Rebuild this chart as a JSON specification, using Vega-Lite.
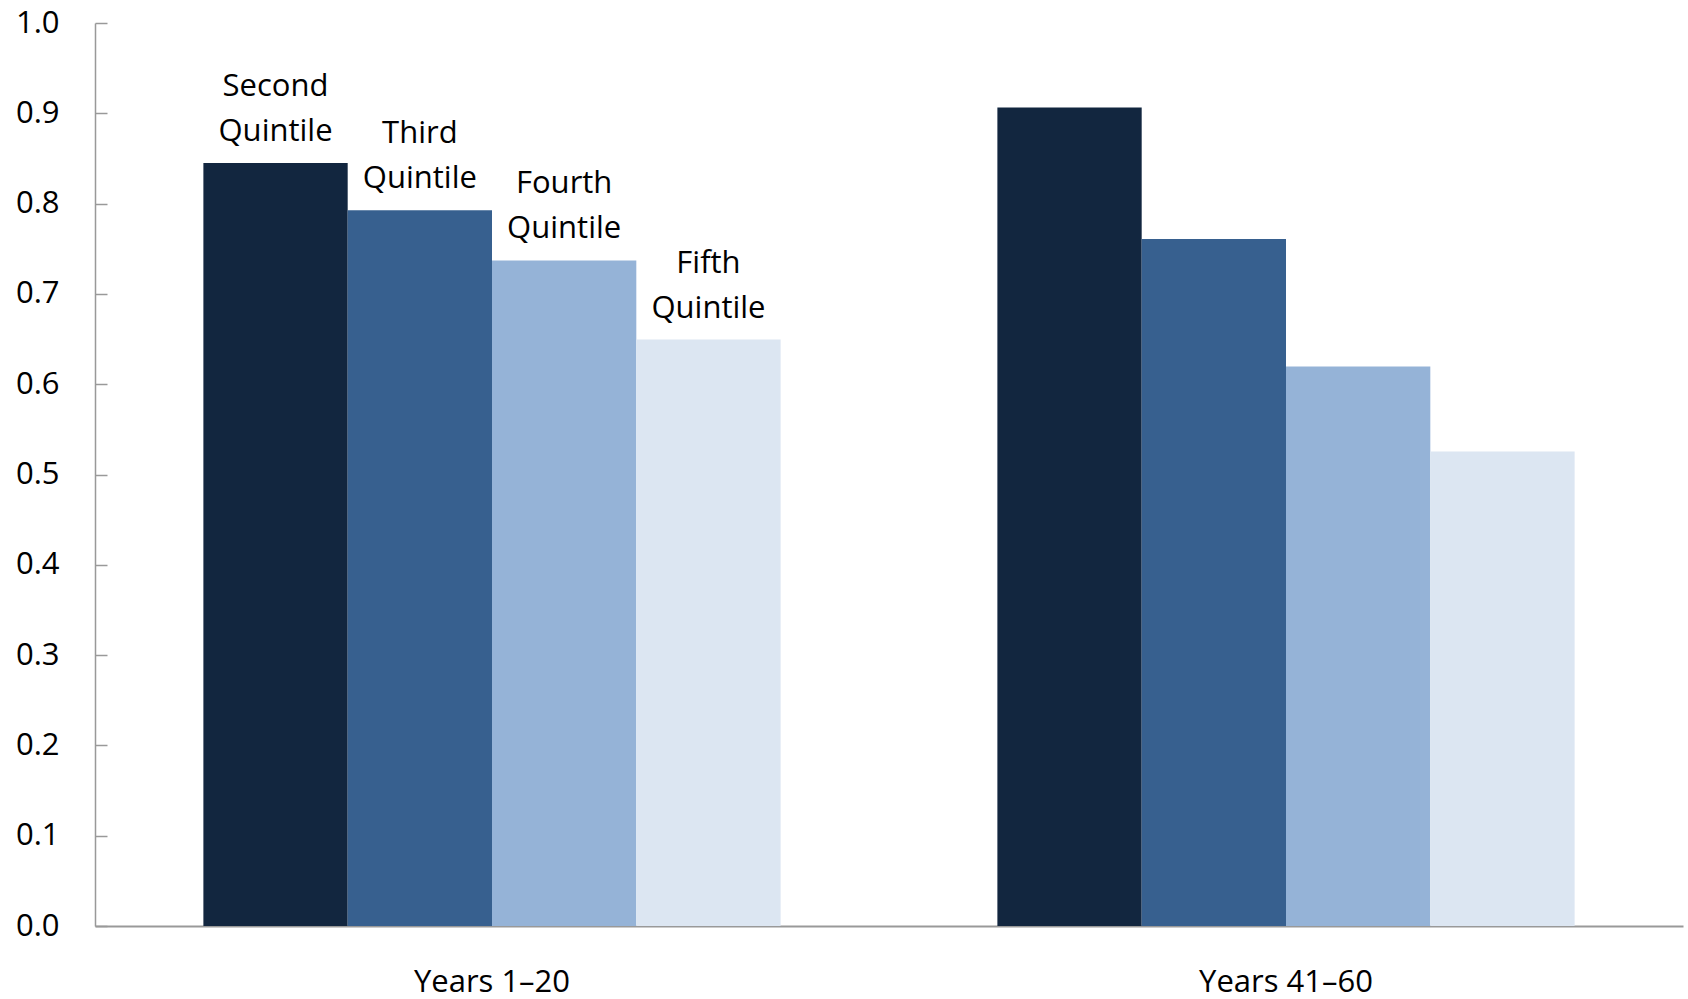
{
  "$schema": "https://vega.github.io/schema/vega-lite/v6.json",
  "width": 1588,
  "height": 903,
  "autosize": {"type": "none"},
  "padding": {"left": 95, "top": 23, "right": 5, "bottom": 73},
  "background": "white",
  "config": {
    "view": {"stroke": null},
    "font": "Open Sans",
    "axis": {"grid": false, "labelFont": "Open Sans", "labelFontSize": 31, "labelColor": "#000000", "domainColor": "#999999", "tickColor": "#999999", "domainWidth": 1.5, "tickWidth": 1.5, "title": null}
  },
  "data": {
    "values": [
      {"period": "Years 1–20", "quintile": "Second Quintile", "label": "Second\nQuintile", "value": 0.845},
      {"period": "Years 1–20", "quintile": "Third Quintile", "label": "Third\nQuintile", "value": 0.7925},
      {"period": "Years 1–20", "quintile": "Fourth Quintile", "label": "Fourth\nQuintile", "value": 0.737},
      {"period": "Years 1–20", "quintile": "Fifth Quintile", "label": "Fifth\nQuintile", "value": 0.6495},
      {"period": "Years 41–60", "quintile": "Second Quintile", "label": "", "value": 0.9065},
      {"period": "Years 41–60", "quintile": "Third Quintile", "label": "", "value": 0.7608},
      {"period": "Years 41–60", "quintile": "Fourth Quintile", "label": "", "value": 0.6197},
      {"period": "Years 41–60", "quintile": "Fifth Quintile", "label": "", "value": 0.5256}
    ]
  },
  "encoding": {
    "x": {
      "field": "period", "type": "nominal", "sort": ["Years 1–20", "Years 41–60"],
      "scale": {"paddingInner": 0.273, "paddingOuter": 0.1365},
      "axis": {"ticks": false, "labelAngle": 0, "labelPadding": 65, "labelBaseline": "alphabetic", "domainWidth": 2}
    },
    "xOffset": {
      "field": "quintile", "type": "nominal",
      "sort": ["Second Quintile", "Third Quintile", "Fourth Quintile", "Fifth Quintile"],
      "scale": {"paddingInner": 0, "paddingOuter": 0}
    },
    "y": {
      "field": "value", "type": "quantitative",
      "scale": {"domain": [0, 1], "nice": false, "zero": true},
      "axis": {"values": [0, 0.1, 0.2, 0.3, 0.4, 0.5, 0.6, 0.7, 0.8, 0.9, 1.0], "format": ".1f", "tickSize": -12, "labelPadding": 48}
    }
  },
  "layer": [
    {
      "mark": {"type": "bar"},
      "encoding": {
        "color": {
          "field": "quintile", "type": "nominal",
          "sort": ["Second Quintile", "Third Quintile", "Fourth Quintile", "Fifth Quintile"],
          "scale": {"domain": ["Second Quintile", "Third Quintile", "Fourth Quintile", "Fifth Quintile"], "range": ["#12263F", "#37608F", "#95B3D7", "#DCE6F2"]},
          "legend": null
        }
      }
    },
    {
      "mark": {"type": "text", "baseline": "bottom", "align": "center", "fontSize": 31, "font": "Open Sans", "lineHeight": 45, "lineBreak": "\n", "dy": -60, "color": "#000000"},
      "encoding": {
        "text": {"field": "label", "type": "nominal"}
      }
    }
  ]
}
